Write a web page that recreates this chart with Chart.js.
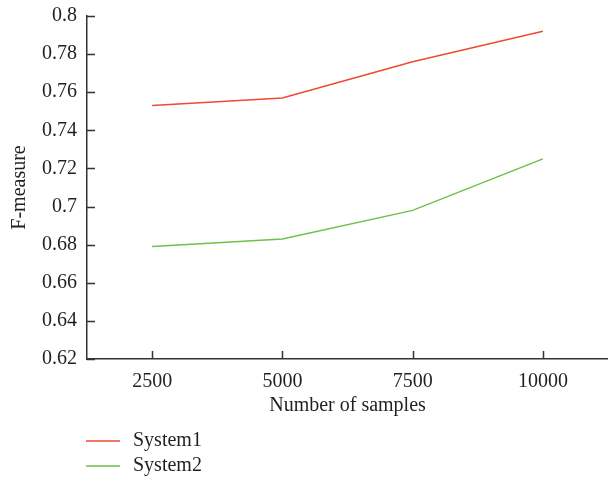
<!DOCTYPE html>
<html>
<head>
<meta charset="utf-8">
<script src="https://cdn.jsdelivr.net/npm/chart.js@4/dist/chart.umd.min.js"></script>
<style>
  html, body { margin: 0; padding: 0; background: #fff; }
  #wrap { width: 608px; height: 477px; position: relative; }
</style>
</head>
<body>
<div id="wrap"><canvas id="myChart" width="608" height="477"></canvas></div>
<script>
// data
const samples = ["2500", "5000", "7500", "10000"];
const system1 = [0.753, 0.757, 0.776, 0.792];
const system2 = [0.679, 0.683, 0.698, 0.725];
const seriesNames = ["System1", "System2"];

const fontFam = "'Liberation Serif', 'DejaVu Serif', serif";
const axisColor = "#333";
const textColor = "#231f20";

// ticks drawn inward from the axes
const innerTicks = {
  id: "innerTicks",
  afterDatasetsDraw(chart) {
    const ctx = chart.ctx;
    const x = chart.scales.x, y = chart.scales.y;
    const area = chart.chartArea;
    ctx.save();
    ctx.strokeStyle = axisColor;
    ctx.lineWidth = 1.5;
    ctx.beginPath();
    for (let i = 0; i < x.ticks.length; i++) {
      const px = Math.round(x.getPixelForTick(i)) + 0.5;
      ctx.moveTo(px, area.bottom);
      ctx.lineTo(px, area.bottom - 8);
    }
    for (let i = 0; i < y.ticks.length; i++) {
      const py = Math.round(y.getPixelForTick(i)) + 0.5;
      ctx.moveTo(area.left, py);
      ctx.lineTo(area.left + 8, py);
    }
    ctx.stroke();
    ctx.restore();
  }
};

// legend stacked at bottom left
const stackLegend = {
  id: "stackLegend",
  afterDraw(chart) {
    const ctx = chart.ctx;
    ctx.save();
    ctx.font = "20px " + fontFam;
    ctx.textBaseline = "middle";
    chart.data.datasets.forEach((ds, i) => {
      const yy = 441 + i * 25;
      ctx.strokeStyle = ds.borderColor;
      ctx.lineWidth = 1.5;
      ctx.beginPath();
      ctx.moveTo(86, yy);
      ctx.lineTo(120, yy);
      ctx.stroke();
      ctx.fillStyle = textColor;
      ctx.fillText(ds.label, 133, yy);
    });
    ctx.restore();
  }
};

const ctx = document.getElementById("myChart").getContext("2d");
new Chart(ctx, {
  type: "line",
  data: {
    labels: samples,
    datasets: [
      { label: seriesNames[0], data: system1, borderColor: "#ef4a2d", borderWidth: 1.5, pointRadius: 0, tension: 0 },
      { label: seriesNames[1], data: system2, borderColor: "#6ec04b", borderWidth: 1.5, pointRadius: 0, tension: 0 }
    ]
  },
  options: {
    responsive: false,
    animation: false,
    layout: { padding: { top: 16, right: 0, bottom: 55, left: 4 } },
    plugins: { legend: { display: false }, tooltip: { enabled: false } },
    scales: {
      x: {
        offset: true,
        grid: { display: false, drawTicks: false },
        border: { display: true, color: axisColor, width: 1.5 },
        ticks: { color: textColor, padding: 11, font: { family: fontFam, size: 20 } },
        title: { display: true, text: "Number of samples", color: textColor, padding: { top: 8, bottom: 4 }, font: { family: fontFam, size: 20 } },
        afterFit(s) { s.height = 63; s.paddingLeft = 0; s.paddingRight = 0; }
      },
      y: {
        min: 0.62,
        max: 0.8,
        grid: { display: false, drawTicks: false },
        border: { display: true, color: axisColor, width: 1.5 },
        ticks: {
          stepSize: 0.02,
          color: textColor,
          padding: 10,
          font: { family: fontFam, size: 20 },
          callback: (v) => String(Number(v.toFixed(2)))
        },
        title: { display: true, text: "F-measure", color: textColor, font: { family: fontFam, size: 20 } },
        afterFit(s) { s.width = 83; s.paddingTop = 0; s.paddingBottom = 0; }
      }
    }
  },
  plugins: [innerTicks, stackLegend]
});
</script>
</body>
</html>
